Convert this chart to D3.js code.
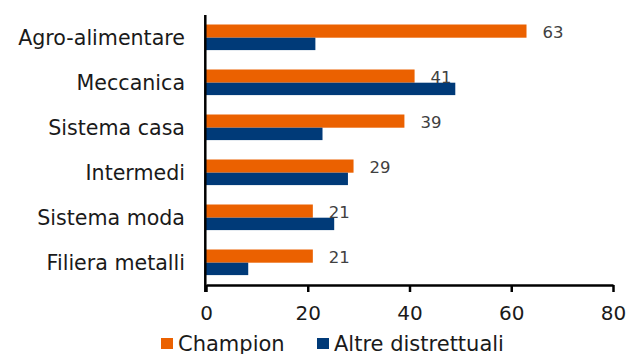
<!DOCTYPE html>
<html><head><meta charset="utf-8">
<script src="https://cdn.jsdelivr.net/npm/d3@7"></script>
<style>
html,body{margin:0;padding:0;background:#fff;}
svg{display:block;font-family:"DejaVu Sans",sans-serif;}
</style></head>
<body><svg id="c" width="635" height="354"></svg>
<script>
const categories = ["Agro-alimentare","Meccanica","Sistema casa","Intermedi","Sistema moda","Filiera metalli"];
const champion = [63,41,39,29,21,21];
const altre = [21.5,49,22.9,27.9,25.2,8.3];
const championLabels = ["63","41","39","29","21","21"];
const xTicks = [0,20,40,60,80];
const seriesNames = ["Champion","Altre distrettuali"];
const colors = ["#EB6100","#003A78"];

const svg = d3.select("#c");
const x = d3.scaleLinear().domain([0,80]).range([206,613]);
const y = d3.scaleBand().domain(categories).range([15,285]).padding(0);
const bh = 13.2;

const g = svg.append("g");
categories.forEach((c,i)=>{
  const cy = y(c)+y.bandwidth()/2 + 0.2;
  g.append("rect").attr("x",x(0)).attr("y",cy-bh).attr("width",x(champion[i])-x(0)).attr("height",bh).attr("fill",colors[0]);
  g.append("rect").attr("x",x(0)).attr("y",cy).attr("width",x(altre[i])-x(0)).attr("height",bh-0.8).attr("fill",colors[1]);
  g.append("text").attr("x",x(champion[i])+16).attr("y",cy-bh/2+7).attr("fill","#404040").attr("font-size",16.5).text(championLabels[i]);
  g.append("text").attr("x",185).attr("y",cy+7.5).attr("text-anchor","end").attr("fill","#1a1a1a").attr("font-size",20.6).text(c);
});

// x axis
const xa = svg.append("g").attr("transform","translate(0,285)")
  .call(d3.axisBottom(x).tickValues(xTicks).tickSize(7).tickSizeOuter(0).tickFormat(d3.format("d")));
xa.select(".domain").attr("stroke","#000").attr("stroke-width",2.5);
xa.selectAll(".tick line").attr("stroke","#000").attr("stroke-width",2.5);
xa.selectAll(".tick text").attr("font-size",20).attr("fill","#1a1a1a").attr("dy",0).attr("y",35).attr("font-family","DejaVu Sans");
// y axis line
svg.append("line").attr("x1",205.3).attr("x2",205.3).attr("y1",15).attr("y2",292).attr("stroke","#000").attr("stroke-width",2.5);

// legend
const leg = [{n:seriesNames[0],c:colors[0],x:161},{n:seriesNames[1],c:colors[1],x:317}];
leg.forEach(l=>{
  svg.append("rect").attr("x",l.x).attr("y",338).attr("width",12).attr("height",11).attr("fill",l.c);
  svg.append("text").attr("x",l.x+17).attr("y",350.5).attr("font-size",21).attr("fill","#1a1a1a").text(l.n);
});
</script></body></html>
